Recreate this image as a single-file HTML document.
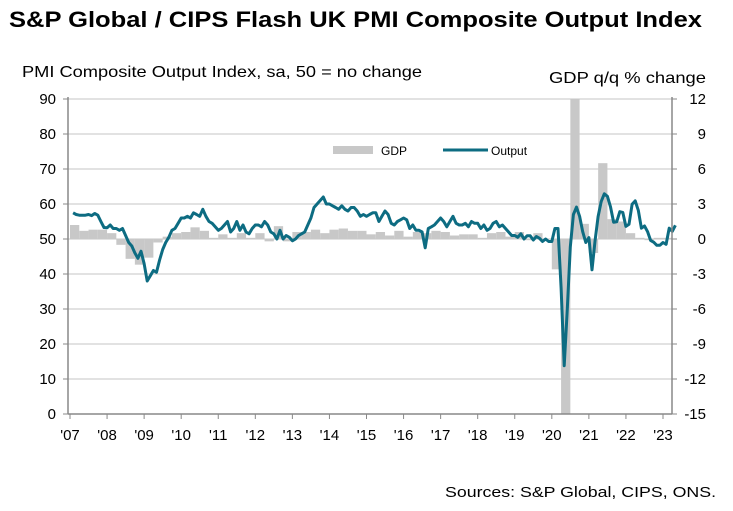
<!DOCTYPE html>
<html><head><meta charset="utf-8"><style>
body{margin:0;background:#fff;font-family:"Liberation Sans",Arial,sans-serif;}
svg text{font-family:"Liberation Sans",Arial,sans-serif;}
</style></head><body>
<svg id="c" width="733" height="506" xmlns="http://www.w3.org/2000/svg">
<text x="9" y="27" font-size="22" font-weight="bold" fill="#000" textLength="693" lengthAdjust="spacingAndGlyphs">S&amp;P Global / CIPS Flash UK PMI Composite Output Index</text>
<text x="22" y="77" font-size="16" fill="#000" textLength="400" lengthAdjust="spacingAndGlyphs">PMI Composite  Output Index, sa, 50 = no change</text>
<text x="549" y="83" font-size="16" fill="#000" textLength="157" lengthAdjust="spacingAndGlyphs">GDP q/q % change</text>
<text x="445" y="497" font-size="15" fill="#000" textLength="271" lengthAdjust="spacingAndGlyphs">Sources: S&amp;P Global, CIPS, ONS.</text>
<g id="grid"></g><g id="bars"></g><g id="line"></g><g id="axes"></g>
<g>
<rect x="333" y="146" width="40" height="8" fill="#c8c8c8"/>
<text x="381" y="155" font-size="12">GDP</text>
<line x1="443" y1="150" x2="488" y2="150" stroke="#0d6c82" stroke-width="3"/>
<text x="491" y="155" font-size="12">Output</text>
</g>
</svg>
<script>
const yearLabels=["'07","'08","'09","'10","'11","'12","'13","'14","'15","'16","'17","'18","'19","'20","'21","'22","'23"];
const leftTicks=[0,10,20,30,40,50,60,70,80,90];
const rightTicks=[-15,-12,-9,-6,-3,0,3,6,9,12];
const pmi=[57.5,57,56.8,56.8,56.8,57,56.7,57.3,56.8,55,53.3,53.2,
54,53,53,52.5,53,51,49,48,46,44.5,46.5,43,
38,39.5,41,40.5,44,47,49,50.5,52.5,53,54.5,56,
56,56.5,56,57.5,57,56.5,58.5,56.5,55,54.5,53.5,52.5,
53,54,55,52,53,55,52.5,54,52,51.5,53,54,
54,53.5,55,54,52,51.5,50,52.5,50,51,50.5,49.5,
50,51,51.5,52,54,56,59,60,61,62,60,60,
59.5,59,58.5,59.5,58.5,58,59,59,58,56.5,57,56.5,
57,57.5,57.5,55,56.5,58,57,54.5,54,55,55.5,56,
55.5,53,54,52.5,52.5,52,47.5,53,53.5,54,55,56,
55,53.5,55,56.5,54.5,54,54,54.5,53.5,55,54.5,54.5,
53,54,52.5,53,54.5,55,53.5,54,53,52,51,51,
50.5,51.5,50,50.9,50.9,49.7,50.7,50.2,49.3,50,49.3,49.3,
53,53,36,13.8,30,47.7,57,59.1,56.5,52.1,49,50.4,
41.2,49.6,56.4,60.7,62.9,62.2,59.2,54.8,54.9,57.8,57.6,53.6,
54.2,59.9,60.9,58.2,53.1,53.7,52.1,49.6,49.1,48.2,48.2,49,
48.5,53.1,52.2,53.9];
const gdp=[1.2,0.7,0.8,0.8, 0.5,-0.5,-1.7,-2.2, -1.6,-0.3,0.2,0.5, 0.6,1.0,0.7,0.1, 0.4,0.1,0.5,0.1,
0.5,-0.2,1.1,-0.2, 0.6,0.6,0.8,0.5, 0.8,0.9,0.7,0.7, 0.4,0.6,0.3,0.7, 0.2,0.6,0.5,0.7,
0.6,0.3,0.4,0.4, 0.1,0.5,0.6,0.2, 0.6,-0.1,0.5,0.0, -2.6,-21,16.9,1.3, -1.2,6.5,1.7,1.5,
0.5,0.1,-0.1,0.1, 0.1];
const NS="http://www.w3.org/2000/svg";
const X0=70,YPX=593/16,TOP=99,BOT=414,L=68,R=672;
const xm=m=>X0+m*YPX/12;
const yl=v=>BOT-(v/90)*(BOT-TOP);
const yr=v=>BOT-((v+15)/27)*(BOT-TOP);
function mk(tag,attrs,parent){const e=document.createElementNS(NS,tag);for(const k in attrs)e.setAttribute(k,attrs[k]);document.getElementById(parent).appendChild(e);return e;}
leftTicks.forEach((t,i)=>{
 if(t>0){const g=mk('line',{x1:L,x2:R,y1:yl(t),y2:yl(t),stroke:'#d9d9d9','stroke-width':1.5},'grid');
 
 }
 const tx=mk('text',{x:56,y:yl(t)+5,'font-size':15,'text-anchor':'end'},'axes');tx.textContent=t;
 
 
 mk('line',{x1:L-5,x2:L,y1:yl(t),y2:yl(t),stroke:'#888'},'axes');
});
rightTicks.forEach(t=>{
 const tx=mk('text',{x:706,y:yr(t)+5,'font-size':15,'text-anchor':'end'},'axes');tx.textContent=t;
 
 
 mk('line',{x1:R,x2:R+5,y1:yr(t),y2:yr(t),stroke:'#888'},'axes');
});
mk('line',{x1:L,x2:L,y1:TOP-2,y2:BOT,stroke:'#888','stroke-width':1.5},'axes');
mk('line',{x1:R,x2:R,y1:TOP-2,y2:BOT,stroke:'#888','stroke-width':1.5},'axes');
const xa=mk('line',{x1:L,x2:R,y1:BOT,y2:BOT,stroke:'#888','stroke-width':1.5},'axes');


yearLabels.forEach((s,i)=>{
 const x=xm(i*12);
 mk('line',{x1:x,x2:x,y1:BOT,y2:BOT+5,stroke:'#888'},'axes');
 const tx=mk('text',{x:x,y:BOT+26,'font-size':15,'text-anchor':'middle'},'axes');tx.textContent=s;
 
 
});
gdp.forEach((v,i)=>{
 const cv=Math.max(-15,Math.min(12,v));
 const x1=xm(i*3),x2=xm(i*3+3);
 const y0=yr(0),y1=yr(cv);
 const b=mk('rect',{x:x1,width:x2-x1,y:Math.min(y0,y1),height:Math.abs(y1-y0),fill:'#c8c8c8'},'bars');
 
 
});
const d=pmi.map((v,i)=>(i?'L':'M')+xm(i+1).toFixed(1)+','+yl(v).toFixed(1)).join('');
const p=mk('path',{d:d,fill:'none',stroke:'#0d6c82','stroke-width':3,'stroke-linejoin':'round'},'line');


</script>
</body></html>
